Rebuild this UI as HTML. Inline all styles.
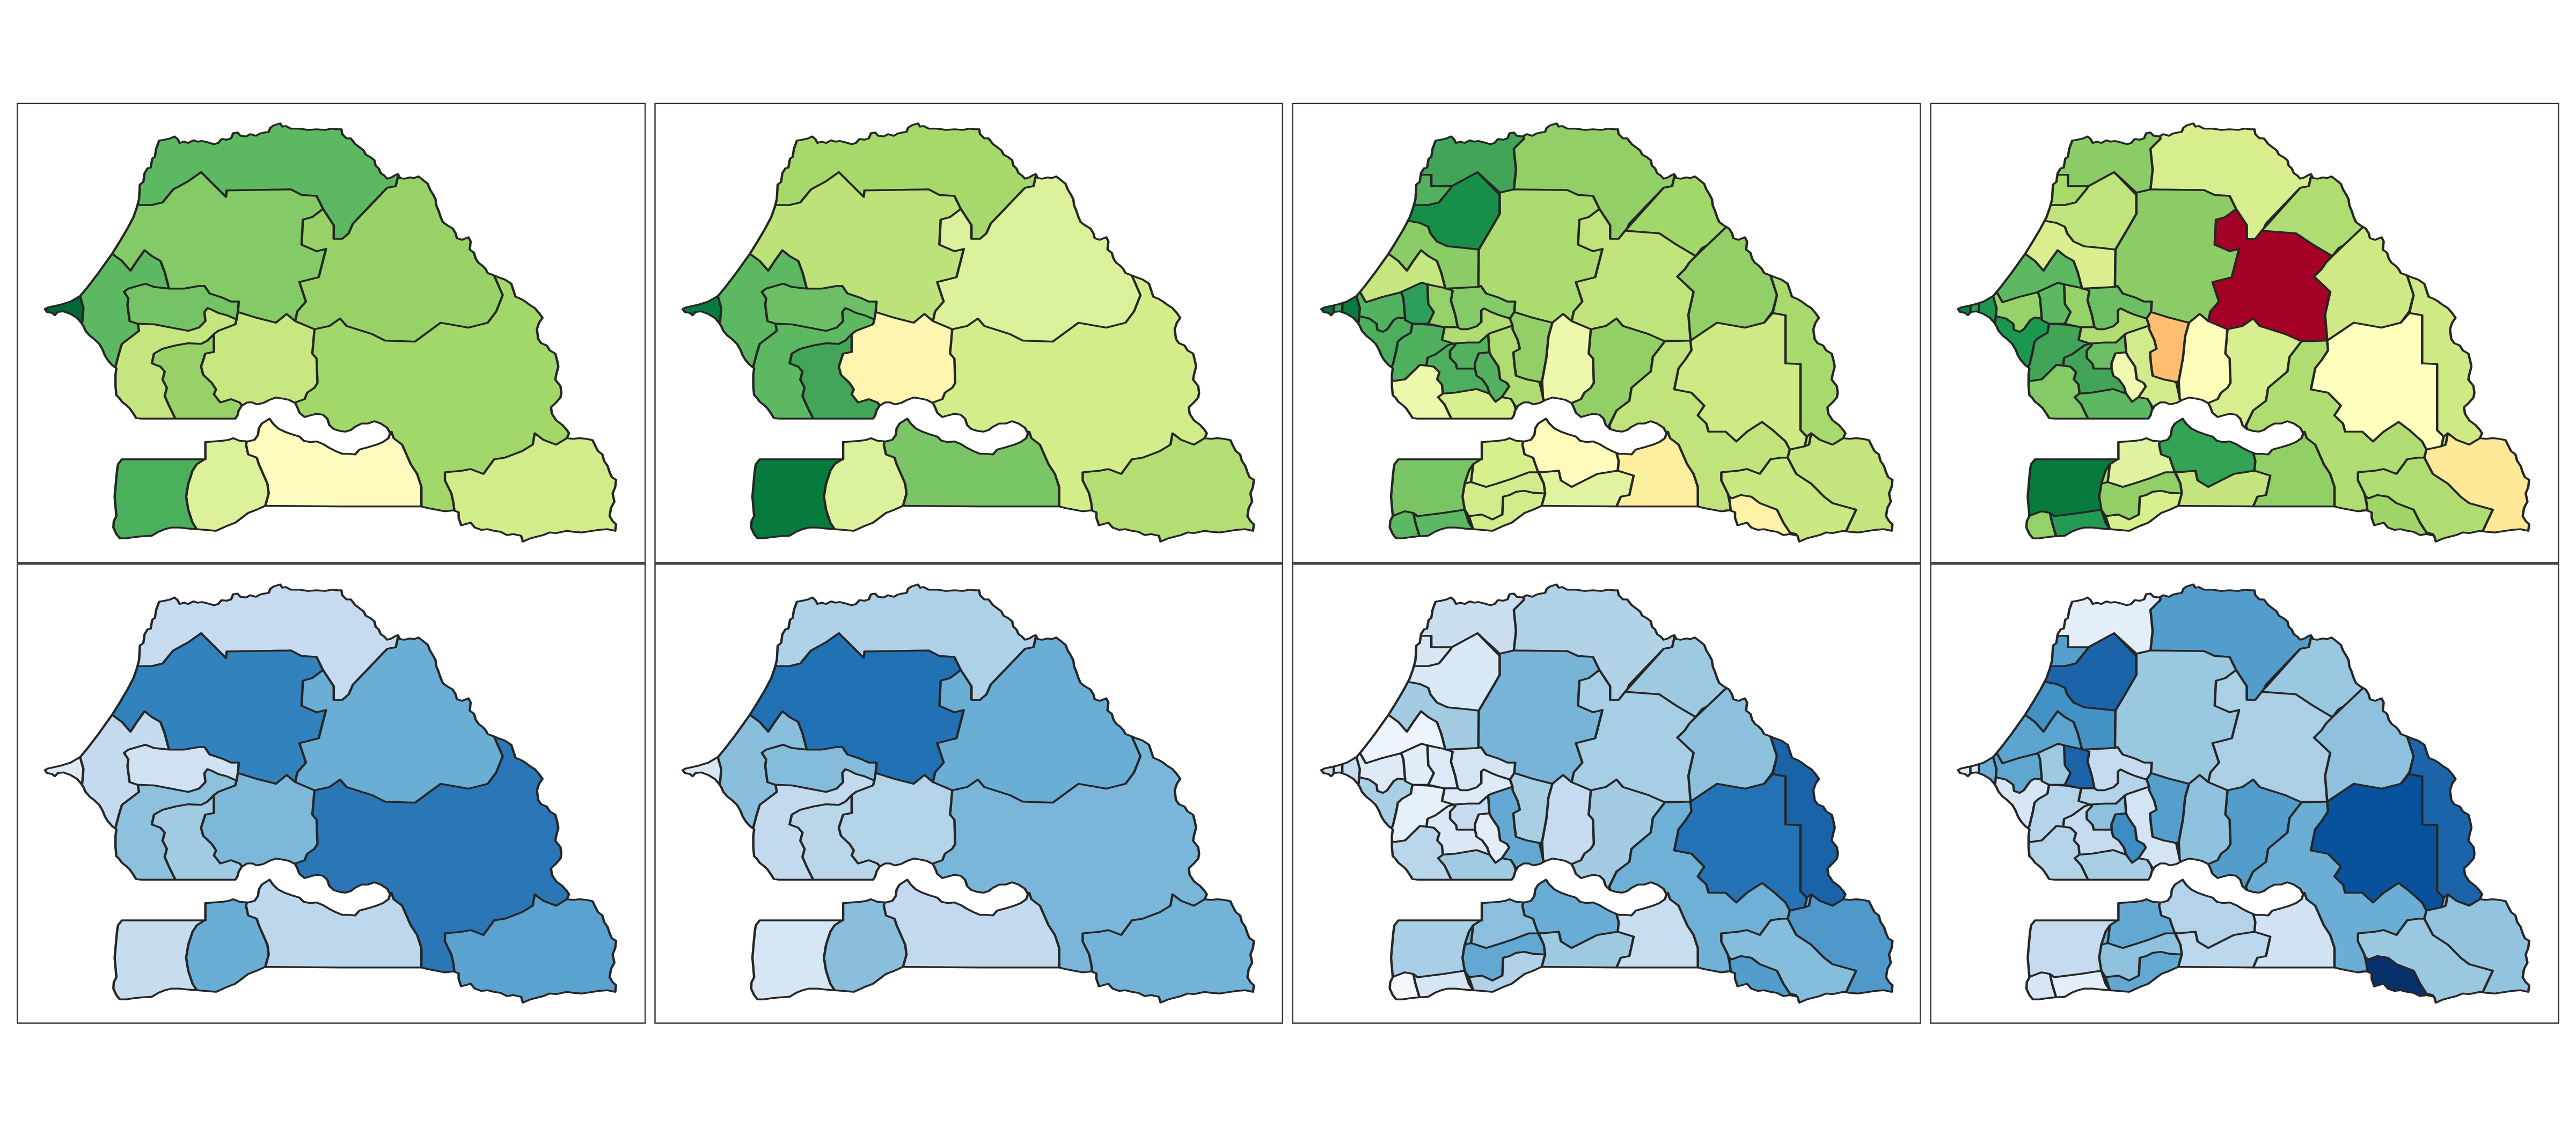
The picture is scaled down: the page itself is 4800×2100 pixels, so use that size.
<!DOCTYPE html>
<html><head><meta charset="utf-8"><style>
html,body{margin:0;padding:0;background:#fff;}
svg{display:block;}
</style></head><body>
<svg xmlns="http://www.w3.org/2000/svg" xmlns:xlink="http://www.w3.org/1999/xlink" width="4800" height="2100" viewBox="0 0 4800 2100">
<rect x="0" y="0" width="4800" height="2100" fill="#ffffff"/>
<defs>
<polygon id="ol" points="105,703 112,698 140,690 165,680 188,662 205,635 230,592 250,555 262,533 280,495 298,455 312,420 320,390 325,365 327,320 335,312 338,285 345,270 352,268 356,240 362,235 365,210 372,185 385,182 398,178 408,172 415,180 420,192 430,188 440,192 452,184 462,188 472,186 485,190 500,196 510,192 518,180 530,182 540,178 545,162 555,160 562,170 575,172 585,165 598,170 608,163 618,160 628,158 632,145 640,138 655,132 660,142 668,140 680,148 700,148 720,152 740,150 760,152 775,148 790,150 798,150 800,165 810,178 820,178 830,195 840,205 850,215 855,228 865,235 875,245 878,262 885,270 890,285 898,292 905,302 915,298 925,290 930,288 935,300 945,302 958,298 968,300 978,295 988,305 1000,318 1005,335 1012,350 1018,365 1020,385 1025,400 1030,420 1035,435 1045,445 1058,455 1065,470 1068,485 1080,490 1095,482 1100,495 1098,520 1108,530 1112,548 1118,560 1128,570 1135,580 1140,592 1152,598 1165,605 1180,612 1195,625 1200,645 1205,665 1218,672 1228,680 1238,690 1250,700 1260,715 1268,730 1260,745 1255,765 1258,795 1265,808 1278,815 1285,830 1298,840 1302,860 1305,880 1300,905 1298,920 1310,940 1312,960 1310,975 1300,990 1288,1005 1290,1025 1300,1045 1315,1060 1325,1075 1330,1085 1325,1100 1340,1102 1355,1100 1370,1102 1385,1106 1392,1125 1398,1140 1408,1150 1412,1170 1420,1185 1425,1205 1430,1220 1440,1228 1438,1250 1432,1270 1436,1295 1428,1315 1425,1340 1432,1355 1440,1365 1438,1385 1420,1380 1400,1382 1385,1385 1360,1390 1340,1388 1325,1385 1300,1392 1285,1390 1270,1398 1255,1403 1240,1408 1222,1418 1218,1400 1200,1395 1185,1398 1170,1388 1155,1385 1140,1380 1125,1382 1110,1375 1100,1360 1078,1368 1072,1345 1072,1328 1060,1322 1040,1325 1020,1320 1000,1315 985,1310 800,1310 620,1308 600,1320 580,1330 565,1345 550,1360 530,1370 505,1385 480,1382 460,1380 440,1378 420,1375 400,1375 385,1380 370,1388 355,1400 330,1402 310,1405 295,1408 280,1408 272,1395 265,1375 266,1355 272,1340 270,1310 268,1280 270,1250 272,1220 274,1195 276,1180 285,1165 480,1165 480,1112 500,1110 520,1108 535,1105 545,1100 560,1108 580,1110 595,1105 603,1090 605,1070 612,1055 630,1040 638,1055 650,1070 665,1080 682,1088 700,1095 710,1108 725,1112 740,1110 755,1118 770,1130 785,1140 800,1148 815,1148 830,1150 840,1135 860,1128 880,1120 895,1112 908,1100 912,1085 905,1068 890,1055 875,1048 860,1055 845,1055 830,1065 820,1075 808,1080 795,1078 780,1072 770,1060 765,1040 755,1028 740,1025 725,1030 712,1035 700,1022 695,1005 690,992 675,982 660,978 645,975 630,982 615,992 600,996 590,990 578,990 565,1000 558,1015 555,1030 550,1040 420,1040 330,1040 318,1038 312,1025 303,1008 295,998 285,988 278,975 272,968 270,940 270,905 272,885 262,875 252,860 245,845 240,828 232,810 220,795 210,785 200,770 195,755 190,745 180,730 165,718 148,710 135,712 128,722 122,715 110,712"/>
<clipPath id="cp"><use href="#ol"/></clipPath>

<!-- regions -->
<polygon id="r_sl" points="280,383 325,383 355,383 380,375 405,335 440,310 470,282 528,358 530,338 680,335 705,352 740,355 755,395 780,445 780,487 800,487 815,470 825,440 905,330 925,325 932,285 950,200 900,60 280,60"/>
<polygon id="r_lg" points="200,520 250,380 280,383 325,383 355,383 380,375 405,335 440,310 470,282 528,358 530,338 680,335 705,352 740,355 755,395 730,420 708,428 705,505 740,525 762,518 745,605 700,620 715,680 695,710 690,740 670,718 645,745 600,730 556,712 558,680 540,680 520,668 490,655 478,632 465,632 430,640 395,640 385,590 375,555 355,540 338,522 320,555 305,585 285,555 262,533"/>
<polygon id="r_mt" points="932,285 925,325 905,330 825,440 815,470 800,487 780,487 780,445 755,395 730,420 708,428 705,505 740,525 762,518 745,605 700,620 715,680 695,710 690,740 735,765 770,755 795,732 810,755 870,780 900,800 970,803 1030,745 1095,760 1140,745 1160,710 1175,660 1155,600 1220,560 1100,250"/>
<polygon id="r_th" points="262,533 285,555 305,585 320,555 338,522 355,540 375,555 385,590 395,640 360,635 340,625 300,640 290,650 300,670 298,690 303,740 322,748 325,770 305,790 285,810 278,840 270,880 200,900 100,650"/>
<polygon id="r_db" points="290,650 300,640 340,625 360,635 395,640 430,640 465,632 478,632 490,655 520,668 540,680 558,680 556,712 553,735 530,722 510,715 495,705 485,700 478,712 480,740 465,760 440,770 400,760 360,750 322,748 303,740 298,690 300,670"/>
<polygon id="r_ft" points="322,748 360,750 400,760 440,770 465,760 480,740 478,712 485,700 495,705 510,715 530,722 553,735 550,750 510,770 500,780 485,800 470,810 440,808 410,815 380,825 360,840 355,870 375,880 385,895 380,920 390,945 385,970 395,1000 410,1040 300,1080 230,900 270,880 278,840 285,810 305,790 325,770"/>
<polygon id="r_kl" points="360,840 380,825 410,815 440,808 470,810 485,800 500,780 500,835 480,840 470,880 475,905 495,930 505,950 500,965 515,990 540,980 560,990 565,998 570,1060 410,1080 410,1040 395,1000 385,970 390,945 380,920 385,895 375,880 355,870"/>
<polygon id="r_kf" points="500,780 510,770 550,750 553,735 556,712 600,730 645,745 670,718 690,740 735,765 730,840 740,855 742,930 735,945 718,960 712,980 690,990 688,1015 575,1015 565,998 560,990 540,980 515,990 500,965 505,950 495,930 475,905 470,880 480,840 500,835"/>
<polygon id="r_kd" points="1040,1205 1080,1200 1100,1195 1130,1210 1155,1165 1180,1160 1220,1140 1245,1120 1250,1085 1270,1105 1300,1120 1325,1100 1500,1100 1500,1500 1075,1500 1075,1370 1070,1330 1062,1322 1060,1300 1055,1270 1040,1230"/>
<polygon id="r_ko" points="575,1100 600,1040 630,1020 700,1050 770,1090 800,1110 840,1100 880,1090 903,1085 915,1080 920,1100 940,1120 950,1150 960,1180 975,1210 985,1250 985,1310 985,1450 620,1450 620,1308 628,1270 625,1240 615,1210 605,1180 600,1160 580,1150 575,1120"/>
<polygon id="r_se" points="478,1100 580,1095 575,1120 580,1150 600,1160 605,1180 615,1210 625,1240 628,1270 620,1308 620,1450 460,1450 460,1380 450,1360 440,1320 435,1280 440,1240 450,1200 460,1180 478,1165"/>
<polygon id="r_zg" points="200,1140 478,1140 478,1165 460,1180 450,1200 440,1240 435,1280 440,1320 450,1360 460,1380 460,1450 200,1450"/>
<polygon id="r_dk" points="80,700 150,675 187,662 195,700 192,745 170,760 80,730"/>

<!-- departments -->
<polygon id="d_dag" points="300,290 362,290 362,325 410,325 470,282 522,345 555,335 560,275 555,210 578,180 578,60 300,60"/>
<polygon id="d_sld" points="290,290 362,290 362,325 410,325 405,335 380,375 355,383 325,383 290,383"/>
<polygon id="d_pod" points="578,60 578,180 555,210 560,275 555,335 680,337 705,352 740,355 755,395 780,445 780,487 800,487 815,470 825,440 905,330 925,325 932,285 950,200 900,60"/>
<polygon id="d_mat" points="932,285 925,325 905,330 815,462 895,470 935,505 980,540 995,515 1030,490 1048,455 1100,400 1000,250"/>
<polygon id="d_kan" points="980,540 1048,455 1100,400 1220,560 1155,600 1170,660 1160,710 1140,745 1095,760 1030,745 968,800 963,720 975,650 955,625 937,603 955,580 965,560"/>
<polygon id="d_ran" points="780,487 800,487 815,462 895,470 935,505 980,540 965,560 955,580 937,603 955,625 975,650 963,720 968,800 900,800 870,780 810,755 795,732 770,755 735,765 690,740 695,710 715,680 700,620 745,605 762,518 740,525 705,505 708,428 730,420 755,395 780,445"/>
<polygon id="d_lou" points="280,383 325,383 355,383 380,375 405,335 410,325 470,282 522,352 522,410 500,460 473,520 440,515 400,510 375,495 360,470 355,450 335,438 310,432 280,432"/>
<polygon id="d_keb" points="200,520 280,432 310,432 335,438 355,450 360,470 375,495 400,510 440,515 473,520 472,635 395,640 385,590 375,555 355,540 338,522 320,555 305,585 285,555 262,533"/>
<polygon id="d_lin" points="522,345 555,335 680,337 705,352 740,355 755,395 730,420 708,428 705,505 740,525 762,518 745,605 700,620 715,680 695,710 690,740 670,718 645,745 600,730 556,712 558,680 540,680 520,668 490,655 478,632 472,635 473,520 500,460 522,410"/>
<polygon id="d_tiv" points="230,500 262,533 285,555 305,585 320,555 338,522 355,540 375,555 385,590 395,640 339,622 289,652 247,666 209,682 196,652 150,600"/>
<polygon id="d_thd" points="150,640 196,652 209,682 247,666 289,652 293,655 297,671 301,732 284,729 274,737 259,765 249,773 236,767 234,748 217,732 197,726 188,723 150,700"/>
<polygon id="d_mbo" points="150,720 188,723 197,726 217,732 234,748 236,767 249,773 259,765 274,737 284,729 301,732 318,748 314,776 293,792 284,803 280,831 272,875 263,886 200,900"/>
<polygon id="d_bam" points="289,652 339,622 353,627 355,688 368,712 355,748 318,748 301,737 301,732 297,671 293,655"/>
<polygon id="d_dio" points="353,627 393,638 412,646 408,677 418,721 424,759 393,759 355,748 368,712 355,688"/>
<polygon id="d_mba" points="393,638 395,640 472,635 478,632 490,655 520,668 540,680 558,680 556,712 546,732 519,721 502,712 485,701 479,707 479,743 468,756 447,765 431,765 424,759 418,721 408,677 412,646"/>
<polygon id="d_gos" points="393,759 424,759 431,765 447,765 468,756 479,743 479,707 485,701 502,712 519,721 546,732 552,754 502,776 495,781 474,806 447,806 414,809 387,798"/>
<polygon id="d_fat" points="318,748 357,751 393,759 387,798 414,809 401,814 372,842 353,853 351,877 335,875 301,919 276,924 230,910 263,886 272,875 280,831 284,803 293,792 314,776"/>
<polygon id="d_fou" points="230,910 276,924 301,919 335,875 351,877 368,880 381,897 376,919 387,935 389,963 378,974 393,996 401,1018 410,1043 410,1080 300,1080"/>
<polygon id="d_gui" points="353,853 372,842 401,814 414,809 418,814 406,831 406,853 420,872 422,886 464,886 468,908 481,919 493,941 498,963 468,949 418,960 389,963 387,935 376,919 381,897 368,880 351,877"/>
<polygon id="d_D" points="414,809 447,806 474,806 495,781 498,836 473,839 464,869 464,886 422,886 420,872 406,853 406,831 418,814"/>
<polygon id="d_E" points="473,839 498,836 502,847 519,880 523,919 539,930 544,941 527,974 512,988 498,963 493,941 481,919 468,908 464,886 464,869"/>
<polygon id="d_nio" points="378,974 389,963 418,960 468,949 498,963 512,988 527,974 548,979 556,996 570,1060 410,1080 410,1043 401,1018 393,996"/>
<polygon id="d_F" points="495,781 502,776 552,754 564,798 569,825 554,836 556,869 560,908 585,919 615,927 623,974 628,1015 565,1015 556,996 548,979 527,974 544,941 539,930 523,919 519,880 502,847 498,836"/>
<polygon id="d_G" points="556,712 600,730 645,745 636,787 631,853 621,924 615,927 585,919 560,908 556,869 554,836 569,825 564,798 552,765 552,754 546,732"/>
<polygon id="d_H" points="645,745 670,718 690,740 735,765 730,840 740,855 742,930 735,945 720,960 712,980 690,992 688,1015 628,1015 623,974 621,924 631,853 636,787"/>
<polygon id="d_I" points="735,765 770,755 795,732 810,755 870,780 908,802 880,850 875,895 830,945 825,985 795,1015 778,1060 775,1090 700,1060 690,992 712,980 720,960 735,945 742,930 740,855 730,840"/>
<polygon id="d_J" points="908,802 968,800 970,830 955,860 940,885 930,950 970,960 1000,1000 985,1030 1005,1055 1010,1080 1050,1080 1075,1110 1100,1080 1135,1050 1160,1075 1190,1110 1200,1135 1195,1160 1180,1160 1155,1165 1130,1210 1100,1195 1080,1200 1040,1205 1040,1230 1055,1270 1060,1300 1062,1322 1062,1400 985,1400 985,1310 985,1250 975,1210 960,1180 950,1150 940,1120 920,1100 900,1090 880,1090 830,1100 790,1100 778,1062 795,1015 825,985 830,945 875,895 880,850"/>
<polygon id="d_K" points="968,800 1030,745 1095,760 1140,745 1160,715 1190,722 1190,870 1225,872 1225,1075 1240,1095 1235,1125 1200,1135 1190,1110 1160,1075 1135,1050 1100,1080 1075,1110 1050,1080 1010,1080 1005,1055 985,1030 1000,1000 970,960 930,950 940,885 955,860 970,830"/>
<polygon id="d_L" points="1155,600 1250,560 1400,1000 1330,1085 1325,1100 1300,1120 1270,1105 1250,1085 1240,1095 1225,1075 1225,872 1190,870 1190,722 1160,715 1170,660"/>
<polygon id="d_sar" points="1195,1160 1200,1135 1235,1125 1245,1120 1250,1085 1270,1105 1300,1120 1325,1100 1500,1100 1500,1450 1330,1450 1330,1390 1355,1320 1300,1300 1280,1280 1250,1240 1215,1210"/>
<polygon id="d_ked" points="1040,1205 1080,1200 1100,1195 1130,1210 1155,1165 1180,1160 1195,1160 1215,1210 1250,1240 1280,1280 1300,1300 1355,1320 1330,1390 1330,1450 1222,1450 1215,1395 1200,1390 1185,1360 1170,1320 1130,1300 1110,1280 1085,1275 1065,1285 1058,1280 1055,1270 1040,1230"/>
<polygon id="d_sal" points="1058,1280 1065,1285 1085,1275 1110,1280 1130,1300 1170,1320 1185,1360 1200,1390 1215,1395 1222,1450 1050,1450 1050,1322 1062,1322 1060,1300"/>
<polygon id="d_myf" points="575,1100 600,1040 630,1020 700,1050 770,1090 800,1110 795,1145 800,1170 798,1200 750,1210 720,1230 690,1250 665,1230 660,1200 620,1205 600,1200 600,1160 580,1150 575,1120"/>
<polygon id="d_kol" points="600,1200 620,1205 660,1200 665,1230 690,1250 720,1230 750,1210 798,1200 835,1215 830,1245 825,1275 805,1280 795,1310 795,1450 620,1450 620,1308 628,1270 625,1240 615,1210"/>
<polygon id="d_vel" points="800,1110 840,1100 880,1090 903,1085 915,1080 920,1100 940,1120 950,1150 960,1180 975,1210 985,1250 985,1310 985,1450 795,1450 795,1310 805,1280 825,1275 830,1245 835,1215 798,1200 800,1170 795,1145"/>
<polygon id="d_s1" points="478,1100 580,1095 575,1120 580,1150 600,1160 605,1180 612,1205 590,1205 550,1225 515,1240 490,1250 455,1235 460,1180 478,1165"/>
<polygon id="d_s2" points="455,1235 490,1250 515,1240 550,1225 590,1205 612,1205 625,1240 628,1270 600,1268 580,1262 560,1265 545,1275 530,1280 528,1335 505,1350 480,1335 450,1340 440,1320 435,1280 440,1240"/>
<polygon id="d_s3" points="530,1280 545,1275 560,1265 580,1262 600,1268 628,1270 620,1308 620,1450 460,1450 460,1380 450,1340 480,1335 505,1350 528,1335"/>
<polygon id="d_big" points="200,1140 478,1140 478,1165 460,1180 450,1200 440,1240 435,1280 440,1320 415,1325 390,1330 360,1335 330,1340 320,1330 300,1325 270,1340 200,1340"/>
<polygon id="d_zig" points="320,1330 330,1340 360,1335 390,1330 415,1325 440,1320 450,1360 460,1380 460,1450 340,1450 335,1405 325,1360"/>
<polygon id="d_ous" points="200,1340 270,1340 300,1325 320,1330 325,1360 335,1405 340,1450 200,1450"/>
<polygon id="d_pik" points="80,676 154,670 154,732 80,732"/>
<polygon id="d_dkd" points="80,676 134,676 134,732 80,732"/>
</defs>

<!-- ============ PANEL 1 TOP ============ -->
<g transform="translate(0,150) scale(0.797194,0.605877)" stroke="#262626" stroke-width="5.6" stroke-linejoin="round">
<g clip-path="url(#cp)">
<rect x="0" y="0" width="1600" height="1600" fill="#a2d76a" stroke="none"/>
<use href="#r_sl" fill="#5db961"/><use href="#r_lg" fill="#84ca66"/><use href="#r_mt" fill="#97d168"/>
<use href="#r_th" fill="#5db961"/><use href="#r_db" fill="#74c365"/><use href="#r_ft" fill="#c5e67e"/>
<use href="#r_kl" fill="#97d168"/><use href="#r_kf" fill="#c8e781"/><use href="#r_kd" fill="#d2ec8b"/>
<use href="#r_ko" fill="#fefbbe"/><use href="#r_se" fill="#dbf19a"/><use href="#r_zg" fill="#4bb05c"/>
<use href="#r_dk" fill="#006837"/>
</g>
<use href="#ol" fill="none"/>
</g>

<!-- ============ PANEL 2 TOP ============ -->
<g transform="translate(1188.4,150) scale(0.797194,0.605877)" stroke="#262626" stroke-width="5.6" stroke-linejoin="round">
<g clip-path="url(#cp)">
<rect x="0" y="0" width="1600" height="1600" fill="#d4ed8b" stroke="none"/>
<use href="#r_sl" fill="#a6d96a"/><use href="#r_lg" fill="#bde27a"/><use href="#r_mt" fill="#daf09a"/>
<use href="#r_th" fill="#5db961"/><use href="#r_db" fill="#6cbf65"/><use href="#r_ft" fill="#5db961"/>
<use href="#r_kl" fill="#42a557"/><use href="#r_kf" fill="#fef6b0"/><use href="#r_kd" fill="#b3de73"/>
<use href="#r_ko" fill="#7ac566"/><use href="#r_se" fill="#dcf19b"/><use href="#r_zg" fill="#077a3e"/>
<use href="#r_dk" fill="#077a3e"/>
</g>
<use href="#ol" fill="none"/>
</g>

<!-- ============ PANEL 3 TOP ============ -->
<g transform="translate(2378.4,150) scale(0.797194,0.605877)" stroke="#262626" stroke-width="5.6" stroke-linejoin="round">
<g clip-path="url(#cp)">
<rect x="0" y="0" width="1600" height="1600" fill="#c0e37b" stroke="none"/>
<use href="#d_dag" fill="#41a457"/><use href="#d_sld" fill="#52b15f"/><use href="#d_pod" fill="#93cf67"/>
<use href="#d_mat" fill="#a2d76a"/><use href="#d_kan" fill="#93cf67"/><use href="#d_ran" fill="#c0e37b"/>
<use href="#d_lou" fill="#178f49"/><use href="#d_keb" fill="#8bcc67"/><use href="#d_lin" fill="#acdc6f"/>
<use href="#d_tiv" fill="#c6e67f"/><use href="#d_thd" fill="#52b260"/><use href="#d_mbo" fill="#4dae5d"/>
<use href="#d_bam" fill="#2ca05a"/><use href="#d_dio" fill="#94d168"/><use href="#d_mba" fill="#84ca66"/>
<use href="#d_gos" fill="#b0dc72"/><use href="#d_fat" fill="#4fb05e"/><use href="#d_fou" fill="#eef8ad"/>
<use href="#d_gui" fill="#4dae5d"/><use href="#d_D" fill="#54b160"/><use href="#d_E" fill="#54b160"/>
<use href="#d_nio" fill="#d8ef8d"/><use href="#d_F" fill="#b0dd72"/><use href="#d_G" fill="#92cf67"/>
<use href="#d_H" fill="#eef8ad"/><use href="#d_I" fill="#93cf67"/><use href="#d_J" fill="#c0e37b"/>
<use href="#d_K" fill="#cfe985"/><use href="#d_L" fill="#a8d96c"/><use href="#d_sar" fill="#c4e47e"/>
<use href="#d_ked" fill="#c9e882"/><use href="#d_sal" fill="#fef1a8"/><use href="#d_myf" fill="#fefabb"/>
<use href="#d_kol" fill="#dff3a0"/><use href="#d_vel" fill="#fdeea0"/><use href="#d_s1" fill="#d8ef8d"/>
<use href="#d_s2" fill="#d2ec8b"/><use href="#d_s3" fill="#d2ec8b"/><use href="#d_big" fill="#79c566"/>
<use href="#d_zig" fill="#5cb862"/><use href="#d_ous" fill="#5cb862"/>
<use href="#r_dk" fill="#0b7a3e"/><use href="#d_pik" fill="#3da658"/><use href="#d_dkd" fill="#07703b"/>
</g>
<use href="#ol" fill="none"/>
</g>

<!-- ============ PANEL 4 TOP ============ -->
<g transform="translate(3564.7,150) scale(0.797194,0.605877)" stroke="#262626" stroke-width="5.6" stroke-linejoin="round">
<g clip-path="url(#cp)">
<rect x="0" y="0" width="1600" height="1600" fill="#b0dd72" stroke="none"/>
<use href="#d_dag" fill="#8bcc67"/><use href="#d_sld" fill="#a9da6c"/><use href="#d_pod" fill="#d7ee8e"/>
<use href="#d_mat" fill="#b0dd72"/><use href="#d_kan" fill="#cfe985"/><use href="#d_ran" fill="#a50026"/>
<use href="#d_lou" fill="#c0e37b"/><use href="#d_keb" fill="#d9ef8f"/><use href="#d_lin" fill="#8bcc67"/>
<use href="#d_tiv" fill="#5db961"/><use href="#d_thd" fill="#96d268"/><use href="#d_mbo" fill="#1a9850"/>
<use href="#d_bam" fill="#5db961"/><use href="#d_dio" fill="#96d268"/><use href="#d_mba" fill="#6cbf64"/>
<use href="#d_gos" fill="#b0dc72"/><use href="#d_fat" fill="#41a457"/><use href="#d_fou" fill="#84ca66"/>
<use href="#d_gui" fill="#41a457"/><use href="#d_D" fill="#6cbf64"/><use href="#d_E" fill="#eff8b0"/>
<use href="#d_nio" fill="#5db961"/><use href="#d_F" fill="#d2ec8b"/><use href="#d_G" fill="#fdbf6f"/>
<use href="#d_H" fill="#fbfdb9"/><use href="#d_I" fill="#d7ee8e"/><use href="#d_J" fill="#b0dd72"/>
<use href="#d_K" fill="#fefebd"/><use href="#d_L" fill="#cfe985"/><use href="#d_sar" fill="#fee999"/>
<use href="#d_ked" fill="#b0dd72"/><use href="#d_sal" fill="#9fd569"/><use href="#d_myf" fill="#33a354"/>
<use href="#d_kol" fill="#c4e47e"/><use href="#d_vel" fill="#93cf67"/><use href="#d_s1" fill="#dff2a0"/>
<use href="#d_s2" fill="#93cf67"/><use href="#d_s3" fill="#d8ef8d"/><use href="#d_big" fill="#077a3e"/>
<use href="#d_zig" fill="#229a54"/><use href="#d_ous" fill="#94d168"/>
<use href="#r_dk" fill="#1a9850"/><use href="#d_pik" fill="#2aa055"/><use href="#d_dkd" fill="#0f8044"/>
</g>
<use href="#ol" fill="none"/>
</g>

<!-- ============ PANEL 1 BOTTOM ============ -->
<g transform="translate(0,1009.1) scale(0.797194,0.605877)" stroke="#262626" stroke-width="5.6" stroke-linejoin="round">
<g clip-path="url(#cp)">
<rect x="0" y="0" width="1600" height="1600" fill="#2a76b6" stroke="none"/>
<use href="#r_sl" fill="#c6dbef"/><use href="#r_lg" fill="#3282be"/><use href="#r_mt" fill="#6aaed6"/>
<use href="#r_th" fill="#c4daee"/><use href="#r_db" fill="#d0e1f2"/><use href="#r_ft" fill="#8dc1dd"/>
<use href="#r_kl" fill="#a1cbe2"/><use href="#r_kf" fill="#7db8da"/><use href="#r_kd" fill="#5aa2cf"/>
<use href="#r_ko" fill="#bdd7ec"/><use href="#r_se" fill="#6aaed6"/><use href="#r_zg" fill="#c8dcf0"/>
<use href="#r_dk" fill="#deebf7"/>
</g>
<use href="#ol" fill="none"/>
</g>

<!-- ============ PANEL 2 BOTTOM ============ -->
<g transform="translate(1188.4,1009.1) scale(0.797194,0.605877)" stroke="#262626" stroke-width="5.6" stroke-linejoin="round">
<g clip-path="url(#cp)">
<rect x="0" y="0" width="1600" height="1600" fill="#7ab6d9" stroke="none"/>
<use href="#r_sl" fill="#afd1e7"/><use href="#r_lg" fill="#2171b5"/><use href="#r_mt" fill="#6aaed6"/>
<use href="#r_th" fill="#89bedc"/><use href="#r_db" fill="#85bcdc"/><use href="#r_ft" fill="#c2d9ee"/>
<use href="#r_kl" fill="#b9d6ea"/><use href="#r_kf" fill="#b3d3e8"/><use href="#r_kd" fill="#73b3d8"/>
<use href="#r_ko" fill="#c3d9ee"/><use href="#r_se" fill="#89bedc"/><use href="#r_zg" fill="#d6e6f4"/>
<use href="#r_dk" fill="#dae8f6"/>
</g>
<use href="#ol" fill="none"/>
</g>

<!-- ============ PANEL 3 BOTTOM ============ -->
<g transform="translate(2378.4,1009.1) scale(0.797194,0.605877)" stroke="#262626" stroke-width="5.6" stroke-linejoin="round">
<g clip-path="url(#cp)">
<rect x="0" y="0" width="1600" height="1600" fill="#6fb0d7" stroke="none"/>
<use href="#d_dag" fill="#cadef0"/><use href="#d_sld" fill="#d6e6f4"/><use href="#d_pod" fill="#b2d2e8"/>
<use href="#d_mat" fill="#9ecae1"/><use href="#d_kan" fill="#8dc0dd"/><use href="#d_ran" fill="#a6cee4"/>
<use href="#d_lou" fill="#d9e8f5"/><use href="#d_keb" fill="#a3cce3"/><use href="#d_lin" fill="#77b4d8"/>
<use href="#d_tiv" fill="#edf4fc"/><use href="#d_thd" fill="#deebf7"/><use href="#d_mbo" fill="#a9cfe5"/>
<use href="#d_bam" fill="#e0ecf8"/><use href="#d_dio" fill="#dce9f6"/><use href="#d_mba" fill="#d3e4f3"/>
<use href="#d_gos" fill="#deebf7"/><use href="#d_fat" fill="#e6f0f9"/><use href="#d_fou" fill="#b9d6ea"/>
<use href="#d_gui" fill="#dbe9f6"/><use href="#d_D" fill="#c6dbef"/><use href="#d_E" fill="#e2edf8"/>
<use href="#d_nio" fill="#a0cbe2"/><use href="#d_F" fill="#64a9d3"/><use href="#d_G" fill="#a9cfe5"/>
<use href="#d_H" fill="#c6dbef"/><use href="#d_I" fill="#a3cce3"/><use href="#d_J" fill="#6fb0d7"/>
<use href="#d_K" fill="#2373b6"/><use href="#d_L" fill="#1b63a9"/><use href="#d_sar" fill="#4f98c9"/>
<use href="#d_ked" fill="#86bddc"/><use href="#d_sal" fill="#529dcc"/><use href="#d_myf" fill="#69acd5"/>
<use href="#d_kol" fill="#9ecae1"/><use href="#d_vel" fill="#c9ddf0"/><use href="#d_s1" fill="#8bbfdd"/>
<use href="#d_s2" fill="#62a8d3"/><use href="#d_s3" fill="#b1d1e8"/><use href="#d_big" fill="#a8cfe5"/>
<use href="#d_zig" fill="#d7e6f5"/><use href="#d_ous" fill="#f5f9fe"/>
<use href="#r_dk" fill="#c8dcf0"/><use href="#d_pik" fill="#d6e6f4"/><use href="#d_dkd" fill="#c6dbef"/>
</g>
<use href="#ol" fill="none"/>
</g>

<!-- ============ PANEL 4 BOTTOM ============ -->
<g transform="translate(3564.7,1009.1) scale(0.797194,0.605877)" stroke="#262626" stroke-width="5.6" stroke-linejoin="round">
<g clip-path="url(#cp)">
<rect x="0" y="0" width="1600" height="1600" fill="#6aaed6" stroke="none"/>
<use href="#d_dag" fill="#e3eef9"/><use href="#d_sld" fill="#549fcd"/><use href="#d_pod" fill="#539dcc"/>
<use href="#d_mat" fill="#9ac8e0"/><use href="#d_kan" fill="#8fc1de"/><use href="#d_ran" fill="#abd0e6"/>
<use href="#d_lou" fill="#1c64aa"/><use href="#d_keb" fill="#4292c6"/><use href="#d_lin" fill="#9ac8e0"/>
<use href="#d_tiv" fill="#5da5d1"/><use href="#d_thd" fill="#5fa6d1"/><use href="#d_mbo" fill="#d6e6f4"/>
<use href="#d_bam" fill="#9dcae1"/><use href="#d_dio" fill="#1c64aa"/><use href="#d_mba" fill="#c6dbef"/>
<use href="#d_gos" fill="#b4d3e9"/><use href="#d_fat" fill="#b6d4e9"/><use href="#d_fou" fill="#b3d3e8"/>
<use href="#d_gui" fill="#c6dbef"/><use href="#d_D" fill="#8dc1dd"/><use href="#d_E" fill="#3d8dc4"/>
<use href="#d_nio" fill="#a9cfe5"/><use href="#d_F" fill="#d4e4f4"/><use href="#d_G" fill="#549fcd"/>
<use href="#d_H" fill="#8fc2de"/><use href="#d_I" fill="#539dcc"/><use href="#d_J" fill="#6aaed6"/>
<use href="#d_K" fill="#08519c"/><use href="#d_L" fill="#1c64aa"/><use href="#d_sar" fill="#93c4df"/>
<use href="#d_ked" fill="#9ac8e0"/><use href="#d_sal" fill="#08306b"/><use href="#d_myf" fill="#b4d3e9"/>
<use href="#d_kol" fill="#bdd7ec"/><use href="#d_vel" fill="#d1e3f3"/><use href="#d_s1" fill="#62a8d3"/>
<use href="#d_s2" fill="#8dc1dd"/><use href="#d_s3" fill="#62a8d3"/><use href="#d_big" fill="#c6dbef"/>
<use href="#d_zig" fill="#e3eef9"/><use href="#d_ous" fill="#d6e6f4"/>
<use href="#r_dk" fill="#6aaed6"/><use href="#d_pik" fill="#dbe9f6"/><use href="#d_dkd" fill="#dbe9f6"/>
</g>
<use href="#ol" fill="none"/>
</g>

<!-- panel borders -->
<g fill="none" stroke="#333333" stroke-width="2.4">
<rect x="32.3" y="192.9" width="1169.9" height="855.6"/>
<rect x="1220.5" y="192.9" width="1169.3" height="855.6"/>
<rect x="2408.7" y="192.9" width="1169.5" height="855.6"/>
<rect x="3597.5" y="192.9" width="1170" height="855.6"/>
<rect x="32.3" y="1051" width="1169.9" height="855.5"/>
<rect x="1220.5" y="1051" width="1169.3" height="855.5"/>
<rect x="2408.7" y="1051" width="1169.5" height="855.5"/>
<rect x="3597.5" y="1051" width="1170" height="855.5"/>
</g>
</svg>
</body></html>
